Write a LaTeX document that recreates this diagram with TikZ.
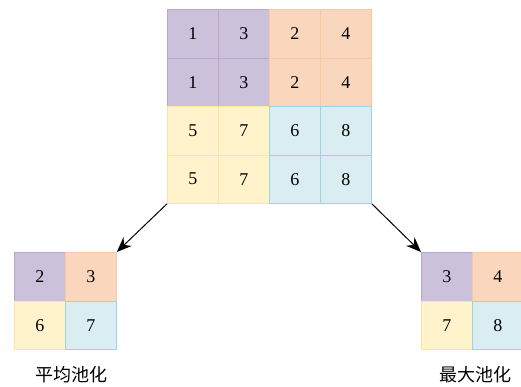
\documentclass[tikz,border=0pt]{standalone}
\usepackage{fontspec}
\setmainfont{Liberation Serif}
\newfontfamily\cjk{Noto Sans CJK SC}
\usetikzlibrary{arrows.meta}
\definecolor{pf}{HTML}{CCC1DA}
\definecolor{pd}{HTML}{B6A8CE}
\definecolor{of}{HTML}{FAD6BC}
\definecolor{od}{HTML}{F6C8A4}
\definecolor{yf}{HTML}{FFF3CC}
\definecolor{yd}{HTML}{FBE6A0}
\definecolor{bf}{HTML}{D9EDF2}
\definecolor{bd}{HTML}{9FD3DF}
\tikzset{
  cell/.style={minimum width=51pt, minimum height=48.5pt, inner sep=0pt, anchor=north west, line width=0.8pt, font=\fontsize{18}{18}\selectfont},
  pc/.style={cell, fill=pf, draw=pd},
  oc/.style={cell, fill=of, draw=od},
  yc/.style={cell, fill=yf, draw=yd},
  bc/.style={cell, fill=bf, draw=bd},
  arr/.style={line width=1pt, -{Stealth[length=15pt,width=12pt]}},
  lab/.style={font=\cjk\fontsize{18}{18}\selectfont}
}
\begin{document}
\begin{tikzpicture}[x=1pt,y=-1pt]
\useasboundingbox (0,0) rectangle (521,386);
\begin{scope}
\clip (0,0) rectangle (521,386);
% main grid
\node[pc] (m11) at (167,9) {1};
\node[pc] (m12) at (218,9) {3};
\node[oc] (m13) at (269,9) {2};
\node[oc] (m14) at (320,9) {4};
\node[pc] (m21) at (167,57.5) {1};
\node[pc] (m22) at (218,57.5) {3};
\node[oc] (m23) at (269,57.5) {2};
\node[oc] (m24) at (320,57.5) {4};
\node[yc] (m31) at (167,106) {5};
\node[yc] (m32) at (218,106) {7};
\node[bc] (m33) at (269,106) {6};
\node[bc] (m34) at (320,106) {8};
\node[yc] (m41) at (167,154.5) {5};
\node[yc] (m42) at (218,154.5) {7};
\node[bc] (m43) at (269,154.5) {6};
\node[bc] (m44) at (320,154.5) {8};
% average pooling
\node[pc] (a11) at (14,252) {2};
\node[oc] (a12) at (65,252) {3};
\node[yc] (a21) at (14,300.5) {6};
\node[bc] (a22) at (65,300.5) {7};
% max pooling
\node[pc] (x11) at (421,252) {3};
\node[oc] (x12) at (472,252) {4};
\node[yc] (x21) at (421,300.5) {7};
\node[bc] (x22) at (472,300.5) {8};
\end{scope}
\draw[arr] (m41.south west) -- (a12.north east);
\draw[arr] (m44.south east) -- (x11.north west);
\node[lab] (l1) at (71,375) {平均池化};
\node[lab] (l2) at (475,375) {最大池化};
\end{tikzpicture}
\end{document}
